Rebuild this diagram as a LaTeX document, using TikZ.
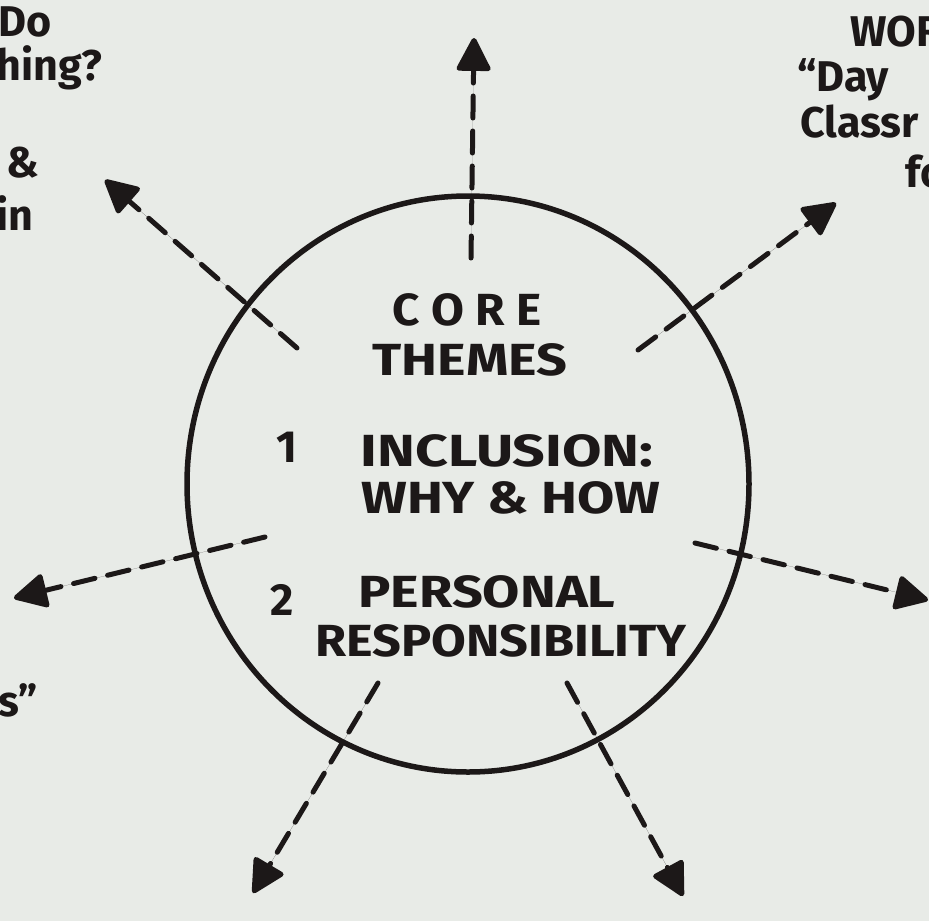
\documentclass[tikz,border=0pt]{standalone}
\usepackage{fontspec}
\setmainfont{Fira Sans}
\usetikzlibrary{arrows.meta}
\definecolor{paper}{RGB}{232,235,231}
\definecolor{ink}{RGB}{28,24,24}
\tikzset{
  ray/.style={draw=ink, line width=5pt, line cap=round, dash pattern=on 22pt off 13pt,
    -{Triangle[length=36pt,width=36pt,round]}, fill=ink},
  capt/.style={text=ink, font=\fontsize{45}{48}\selectfont\bfseries, inner sep=0pt, anchor=center},
  side/.style={text=ink, font=\fontsize{43}{46}\selectfont\bfseries, inner sep=0pt},
}
\begin{document}
\begin{tikzpicture}[x=1pt,y=-1pt]
\fill[paper] (0,0) rectangle (929,921);
\useasboundingbox (0,0) rectangle (929,921);
\begin{scope}
\clip (0,0) rectangle (929,921);
% circle
\draw[ink, line width=5.5pt] (468,484) ellipse [x radius=281, y radius=288];
% central texts
\node[capt] (core) at (467,310) {\scalebox{1.06}[1]{C O R E}};
\node[capt] (themes) at (470,360) {\scalebox{1.2}[1]{THEMES}};
\node[capt] (n1) at (287,447) {1};
\node[capt] (incl) at (507,451) {\scalebox{1.27}[1]{INCLUSION:}};
\node[capt] (why) at (511,498) {\scalebox{1.2}[1]{WHY \& HOW}};
\node[capt] (n2) at (282,600) {2};
\node[capt] (pers) at (487,592) {\scalebox{1.2}[1]{PERSONAL}};
\node[capt] (resp) at (501,641) {\scalebox{1.12}[1]{RESPONSIBILITY}};
% edge texts (cut by the frame, as in the original)
\node[side, anchor=west] (do) at (-2,22) {Do};
\node[side, anchor=east] (ning) at (102,68) {hing?};
\node[side, anchor=west] (amp) at (6,163) {\&};
\node[side, anchor=west] (in) at (-4,213) {in};
\node[side, anchor=east] (so) at (38,700) {s''};
\node[side, anchor=west] (wor) at (850,32) {WOR};
\node[side, anchor=west] (day) at (797,80) {``Day};
\node[side, anchor=west] (class) at (800,122) {Classr};
\node[side, anchor=west] (fo) at (905,172) {fo};
% ray end points
\coordinate (s1) at (471,258); \coordinate (e1) at (474,38);
\coordinate (s2) at (297,348); \coordinate (e2) at (105,180);
\coordinate (s3) at (638,350); \coordinate (e3) at (836,203);
\coordinate (s4) at (265,537); \coordinate (e4) at (14,598);
\coordinate (s5) at (695,543); \coordinate (e5) at (928,600);
\coordinate (s6) at (378,683); \coordinate (e6) at (253,893);
\coordinate (s7) at (567,683); \coordinate (e7) at (683,896);
\foreach \i in {1,...,7} \draw[ray] (s\i) -- (e\i);
\end{scope}
\end{tikzpicture}
\end{document}
